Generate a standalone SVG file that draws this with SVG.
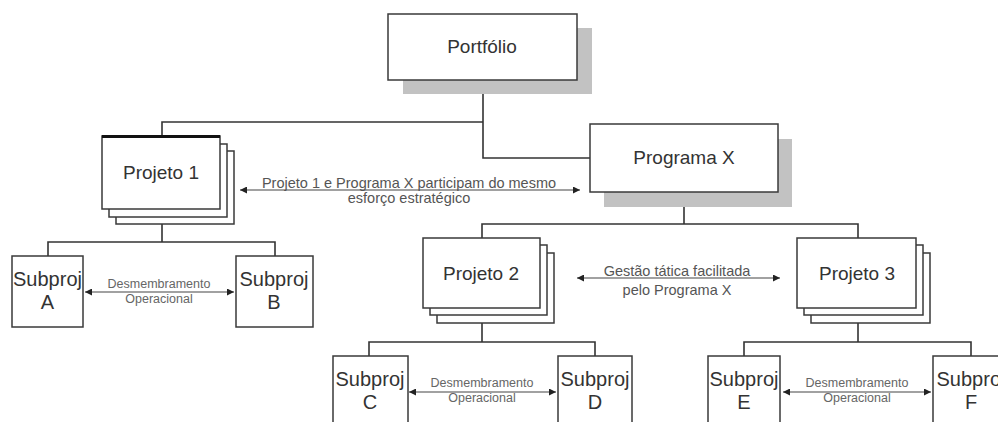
<svg xmlns="http://www.w3.org/2000/svg" width="998" height="422" viewBox="0 0 998 422">
  <style>
    .box { fill: #ffffff; stroke: #3a3a3a; stroke-width: 1.5; }
    .shadow { fill: #c2c2c2; stroke: none; }
    .link { fill: none; stroke: #333333; stroke-width: 1.6; }
    .rel { fill: none; stroke: #444444; stroke-width: 1.2; marker-start: url(#head); marker-end: url(#head); }
    .title { font-family: "Liberation Sans", Arial, sans-serif; font-size: 19px; fill: #333333; text-anchor: middle; }
    .sub { font-family: "Liberation Sans", Arial, sans-serif; font-size: 20px; fill: #333333; text-anchor: middle; }
    .note { font-family: "Liberation Sans", Arial, sans-serif; font-size: 14.5px; fill: #555555; text-anchor: middle; }
    .small { font-family: "Liberation Sans", Arial, sans-serif; font-size: 12.5px; fill: #666666; text-anchor: middle; }
  </style>
  <defs>
    <marker id="head" viewBox="0 0 10 10" refX="10" refY="5" markerWidth="8" markerHeight="7" markerUnits="userSpaceOnUse" orient="auto-start-reverse">
      <path d="M0,0 L10,5 L0,10 z" fill="#222222"/>
    </marker>
  </defs>
  <rect width="998" height="422" fill="#ffffff"/>

  <!-- hierarchy connectors and relation arrows -->
  <g id="connectors">
    <path class="link" d="M483,80 V158 H590"/>
    <path class="link" d="M483,122 H162 V136"/>
    <path class="link" d="M162,209 V242 M48,256 V242 H275 V256"/>
    <path class="link" d="M684,192 V224 M482,238 V224 H858 V238"/>
    <path class="link" d="M482,308 V342 M369,356 V342 H595 V356"/>
    <path class="link" d="M858,308 V342 M744,356 V342 H971 V356"/>

    <line class="rel" x1="240" y1="190" x2="580" y2="190"/>
    <line class="rel" x1="85" y1="292" x2="234" y2="292"/>
    <line class="rel" x1="577" y1="278" x2="780" y2="278"/>
    <line class="rel" x1="409" y1="392" x2="556" y2="392"/>
    <line class="rel" x1="783" y1="392" x2="931" y2="392"/>

    <text class="note" x="409" y="188">Projeto 1 e Programa X participam do mesmo</text>
    <text class="note" x="409" y="203">esforço estratégico</text>
    <text class="note" x="677" y="276">Gestão tática facilitada</text>
    <text class="note" x="677" y="295">pelo Programa X</text>
    <text class="small" x="159" y="288">Desmembramento</text>
    <text class="small" x="159" y="303">Operacional</text>
    <text class="small" x="482" y="387">Desmembramento</text>
    <text class="small" x="482" y="402">Operacional</text>
    <text class="small" x="857" y="387">Desmembramento</text>
    <text class="small" x="857" y="402">Operacional</text>
  </g>

  <g id="portfolio">
    <rect class="shadow" x="403" y="28" width="189" height="66"/>
    <rect class="box" x="388" y="14" width="189" height="66"/>
    <text class="title" x="482" y="53">Portfólio</text>
  </g>

  <g id="programa-x">
    <rect class="shadow" x="604" y="139" width="188" height="68"/>
    <rect class="box" x="590" y="124" width="188" height="68"/>
    <text class="title" x="684" y="164">Programa X</text>
  </g>

  <g id="projeto-1">
    <rect class="box" x="116" y="151" width="118" height="73"/>
    <rect class="box" x="109" y="144" width="118" height="73"/>
    <rect class="box" x="102" y="136" width="118" height="73"/>
    <line x1="102" y1="136.5" x2="220" y2="136.5" stroke="#111111" stroke-width="3"/>
    <text class="title" x="161" y="179">Projeto 1</text>
  </g>

  <g id="projeto-2">
    <rect class="box" x="437" y="253" width="117" height="70"/>
    <rect class="box" x="430" y="245" width="117" height="70"/>
    <rect class="box" x="423" y="238" width="117" height="70"/>
    <text class="title" x="481" y="280">Projeto 2</text>
  </g>

  <g id="projeto-3">
    <rect class="box" x="811" y="253" width="119" height="70"/>
    <rect class="box" x="804" y="245" width="119" height="70"/>
    <rect class="box" x="797" y="238" width="119" height="70"/>
    <text class="title" x="857" y="280">Projeto 3</text>
  </g>

  <g id="subproj-a">
    <rect class="box" x="12" y="256" width="71" height="71"/>
    <text class="sub" x="47.5" y="286">Subproj</text>
    <text class="sub" x="47.5" y="309">A</text>
  </g>

  <g id="subproj-b">
    <rect class="box" x="236" y="256" width="77" height="71"/>
    <text class="sub" x="274" y="286">Subproj</text>
    <text class="sub" x="274" y="309">B</text>
  </g>

  <g id="subproj-c">
    <rect class="box" x="333" y="356" width="75" height="80"/>
    <text class="sub" x="370" y="386">Subproj</text>
    <text class="sub" x="370" y="409">C</text>
  </g>

  <g id="subproj-d">
    <rect class="box" x="558" y="356" width="74" height="80"/>
    <text class="sub" x="595" y="386">Subproj</text>
    <text class="sub" x="595" y="409">D</text>
  </g>

  <g id="subproj-e">
    <rect class="box" x="708" y="356" width="72" height="80"/>
    <text class="sub" x="744" y="386">Subproj</text>
    <text class="sub" x="744" y="409">E</text>
  </g>

  <g id="subproj-f">
    <rect class="box" x="933" y="356" width="76" height="80"/>
    <text class="sub" x="971" y="386">Subproj</text>
    <text class="sub" x="971" y="409">F</text>
  </g>
</svg>
